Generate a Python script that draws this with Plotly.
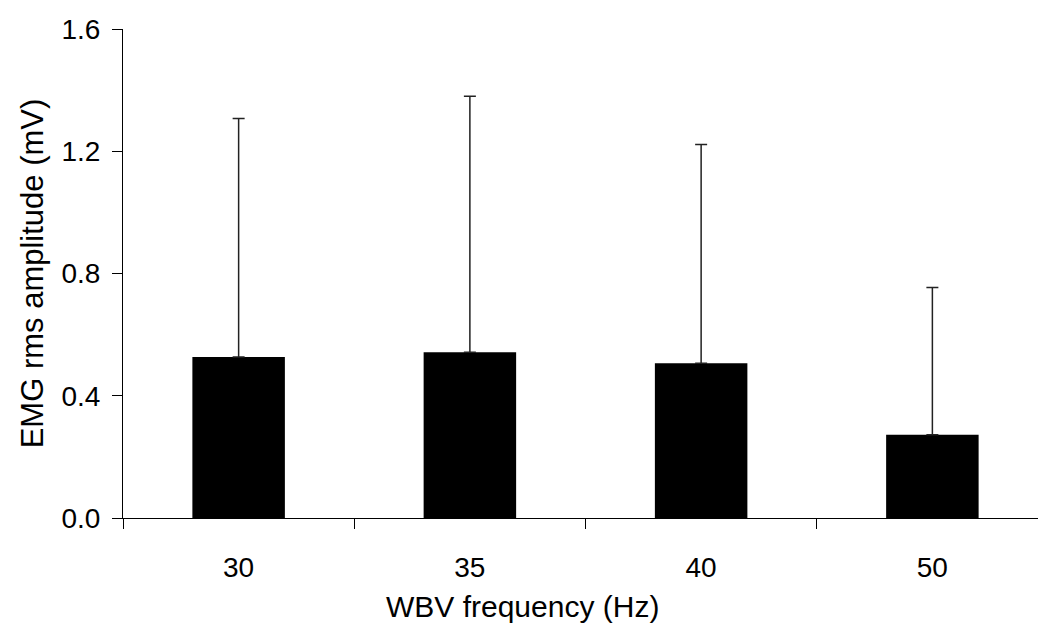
import plotly.graph_objects as go

categories = ["30", "35", "40", "50"]
mean_values = [0.527, 0.542, 0.506, 0.272]
upper_values = [1.307, 1.380, 1.222, 0.754]
error_plus = [u - m for u, m in zip(upper_values, mean_values)]
y_ticks = [0.0, 0.4, 0.8, 1.2, 1.6]
x_title = "WBV frequency (Hz)"
y_title = "EMG rms amplitude (mV)"

font_family = "Liberation Sans, Arial, sans-serif"

fig = go.Figure(
    go.Bar(
        x=categories,
        y=mean_values,
        marker=dict(color="black", line=dict(width=0)),
        width=0.4,
        error_y=dict(
            type="data",
            symmetric=False,
            array=error_plus,
            arrayminus=[0] * len(categories),
            color="#222222",
            thickness=1.5,
            width=6,
        ),
    )
)

fig.update_layout(
    width=1046,
    height=628,
    margin=dict(l=115, r=6, t=18, b=118),
    plot_bgcolor="white",
    paper_bgcolor="white",
    showlegend=False,
    font=dict(family=font_family, size=28, color="black"),
    annotations=[
        dict(
            text=x_title,
            xref="paper",
            yref="paper",
            x=0.4324,
            y=-0.181,
            xanchor="center",
            yanchor="middle",
            showarrow=False,
            font=dict(size=30),
        )
    ],
)

fig.update_xaxes(
    type="category",
    showline=True,
    linecolor="black",
    linewidth=1,
    ticks="outside",
    tickson="boundaries",
    ticklen=10,
    tickcolor="black",
    tickwidth=1,
    ticklabelstandoff=24,
    showgrid=False,
    tickfont=dict(size=28),
)

fig.update_yaxes(
    range=[0, 1.6],
    tickvals=y_ticks,
    ticktext=[f"{v:.1f}" for v in y_ticks],
    showline=True,
    linecolor="black",
    linewidth=1,
    ticks="outside",
    ticklen=10,
    tickcolor="black",
    tickwidth=1,
    ticklabelstandoff=6,
    showgrid=False,
    zeroline=False,
    title=dict(text=y_title, standoff=8, font=dict(size=31)),
    tickfont=dict(size=28),
)

fig.write_html("out.html")
